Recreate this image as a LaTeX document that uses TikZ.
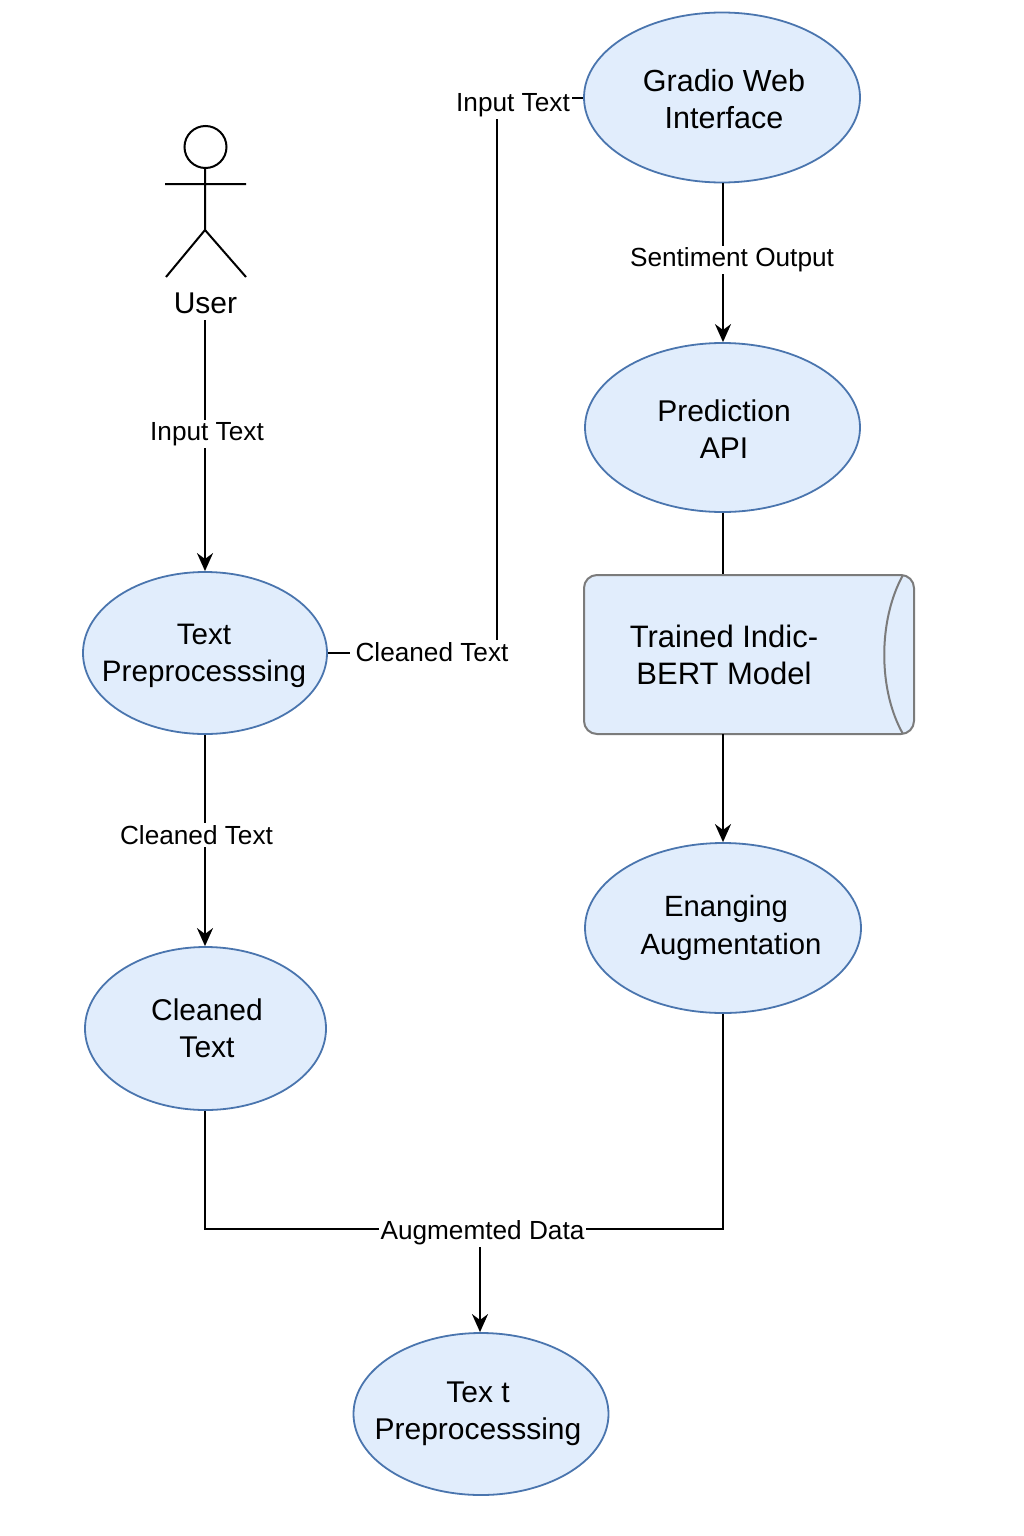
\documentclass[tikz,border=0pt]{standalone}
\usepackage{fontspec}
\setmainfont{Liberation Sans}
\usetikzlibrary{shapes.geometric,arrows.meta}
\definecolor{fillblue}{HTML}{E1EDFC}
\definecolor{edgeblue}{HTML}{4A75AE}
\definecolor{edgegray}{HTML}{7B7B7B}
\tikzset{
  x=1pt,y=-1pt,
  ell/.style={draw=edgeblue,fill=fillblue,ellipse,line width=1.8pt,inner sep=0pt},
  txt/.style={align=center,font=\fontsize{30}{37}\selectfont,inner sep=0pt,text=black},
  lab/.style={fill=white,font=\fontsize{26.2}{30}\selectfont,inner sep=2pt,text=black},
  conn/.style={draw=black,line width=2pt},
  arr/.style={conn,-{Stealth[length=18pt,width=16pt]}},
  actor/.style={draw=black,line width=2pt},
}
\begin{document}
\begin{tikzpicture}
\useasboundingbox (0,0) rectangle (1024,1536);
% guide columns of the vertical connectors
\coordinate (rx) at (723,0);
\coordinate (lx) at (205,0);
% shapes
\node[ell,minimum width=276pt,minimum height=170pt] (gradio) at (722,97.5) {};
\node[ell,minimum width=275pt,minimum height=169pt] (pred) at (722.5,427.5) {};
\node[ell,minimum width=244pt,minimum height=162pt] (prep) at (205,653) {};
\node[ell,minimum width=241pt,minimum height=163pt] (clean) at (205.5,1028.5) {};
\node[ell,minimum width=276pt,minimum height=170pt] (enan) at (723,928) {};
\node[ell,minimum width=255pt,minimum height=162pt] (final) at (481,1414) {};
\coordinate (junction) at (480,1229);
\coordinate (bendl) at (497,653);
\coordinate (bendr) at (497,98);
% actor
\node[circle,actor,minimum size=42pt,inner sep=0pt] (head) at (205.5,147) {};
\coordinate (hip) at (205,230);
\coordinate (armL) at (165,184);
\coordinate (armR) at (246,184);
\coordinate (legL) at (166,277);
\coordinate (legR) at (246,277);
\draw[actor] (head.south -| lx) -- (hip) (armL) -- (armR) (legL) -- (hip) -- (legR);
\node[txt] (user) at (205.5,303) {User};
\coordinate (userbot) at (205,320);
% connectors under the cylinder
\draw[conn] (pred.south -| rx) -- (723,575);
\draw[arr] (gradio.south -| rx) -- (pred.north -| rx);
\draw[arr] (userbot) -- (prep.north -| lx);
\draw[arr] (prep.south -| lx) -- (clean.north -| lx);
\draw[conn] (prep.east |- bendl) -- (bendl) -- (bendr) -- (gradio.west |- bendr);
\draw[conn] (clean.south -| lx) |- (junction);
\draw[conn] (enan.south -| rx) |- (junction);
\draw[arr] (junction) -- (final.north -| junction);
% cylinder
\draw[draw=edgegray,fill=fillblue,line width=2pt,rounded corners=13pt] (584,575) rectangle (914,734);
\draw[draw=edgegray,line width=2pt] (903,575) .. controls (878,620) and (878,690) .. (903,734);
\coordinate (modelbot) at (723,734);
\draw[arr] (modelbot) -- (enan.north -| rx);
% texts
\node[txt,font=\fontsize{30.5}{37}\selectfont] (t1) at (724,99) {Gradio Web\\Interface};
\node[txt] (t2) at (724,429) {Prediction\\API};
\node[txt,font=\fontsize{29.6}{37}\selectfont] (t3) at (204,656) {Text\\Preprocesssing};
\node[txt] (t4) at (207,1028) {Cleaned\\Text};
\node[txt,font=\fontsize{31}{37}\selectfont] (t5) at (724,655) {Trained Indic-\\BERT Model};
\node[txt,font=\fontsize{29.3}{37.5}\selectfont] (t6) at (731,928) {\hspace*{-10pt}Enanging\\Augmentation};
\node[txt] (t7) at (478,1414) {Tex t\\Preprocesssing};
% labels
\node[lab] (l1) at (513,105.5) {Input Text};
\node[lab] (l2) at (732,260) {Sentiment Output};
\node[lab] (l3) at (207,434) {Input Text};
\node[lab,inner xsep=6pt] (l4) at (432,652) {Cleaned Text};
\node[lab] (l5) at (196.5,835) {Cleaned Text};
\node[lab] (l6) at (482.5,1233) {Augmemted Data};
\end{tikzpicture}
\end{document}
